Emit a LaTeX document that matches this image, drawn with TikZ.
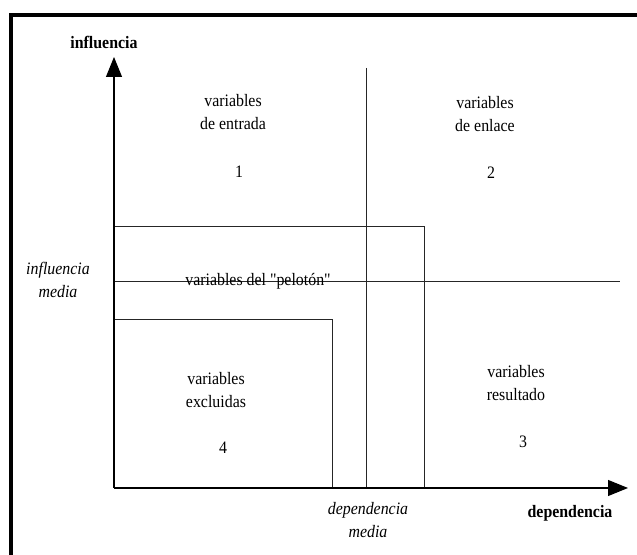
\documentclass[tikz,border=0pt]{standalone}
\usepackage{fontspec}
\setmainfont{Liberation Serif}[FakeStretch=0.91,Ligatures=TeXOff]
\usetikzlibrary{arrows.meta}
\begin{document}
\begin{tikzpicture}[x=0.75pt,y=-0.75pt,
  thin line/.style={line width=0.7pt,draw=black!85},
  axis/.style={line width=0.8pt,draw=black,-{Triangle[length=15pt,width=12pt]}},
  lab/.style={inner sep=0pt,align=center,font=\fontsize{13.1}{17}\selectfont},
  labit/.style={lab,font=\fontsize{13.1}{17}\selectfont\itshape},
  labbf/.style={lab,font=\fontsize{13.1}{17}\selectfont\bfseries}]
\useasboundingbox (0,0) rectangle (637,555);
% frame
\draw[line width=3pt] (11,560) -- (11,15) -- (642,15);
% coordinates
\coordinate (O) at (114,488);
\coordinate (ytip) at (114,57);
\coordinate (xtip) at (628,488);
\coordinate (vtop) at (366,68);
\coordinate (vbot) at (366,488);
\coordinate (hl) at (114,281);
\coordinate (hr) at (620,281);
\coordinate (p1) at (114,226);
\coordinate (p2) at (424,226);
\coordinate (p3) at (424,488);
\coordinate (e1) at (114,319);
\coordinate (e2) at (332,319);
\coordinate (e3) at (332,488);
% lines
\draw[thin line] (vtop) -- (vbot);
\draw[thin line] (hl) -- (hr);
\draw[thin line] (p1) -- (p2) -- (p3);
\draw[thin line] (e1) -- (e2) -- (e3);
% axes
\draw[axis] (O) -- (ytip);
\draw[axis] (O) -- (xtip);
% labels
\node[labbf] (infl) at (104,42) {influencia};
\node[labbf] (dep) at (570,513) {dependencia};
\node[labit] (infmed) at (58,280) {influencia\\media};
\node[labit] (depmed) at (368,520) {dependencia\\media};
\node[lab] (entrada) at (233,112) {variables\\de entrada};
\node[lab] (n1) at (239,172) {1};
\node[lab] (enlace) at (485,114) {variables\\de enlace};
\node[lab] (n2) at (491,173) {2};
\node[lab] (pelot) at (258,281) {variables del "pelotón"};
\node[lab] (exclu) at (216,390) {variables\\excluidas};
\node[lab] (n4) at (223,448) {4};
\node[lab] (resul) at (516,383) {variables\\resultado};
\node[lab] (n3) at (523,442) {3};
\end{tikzpicture}
\end{document}
